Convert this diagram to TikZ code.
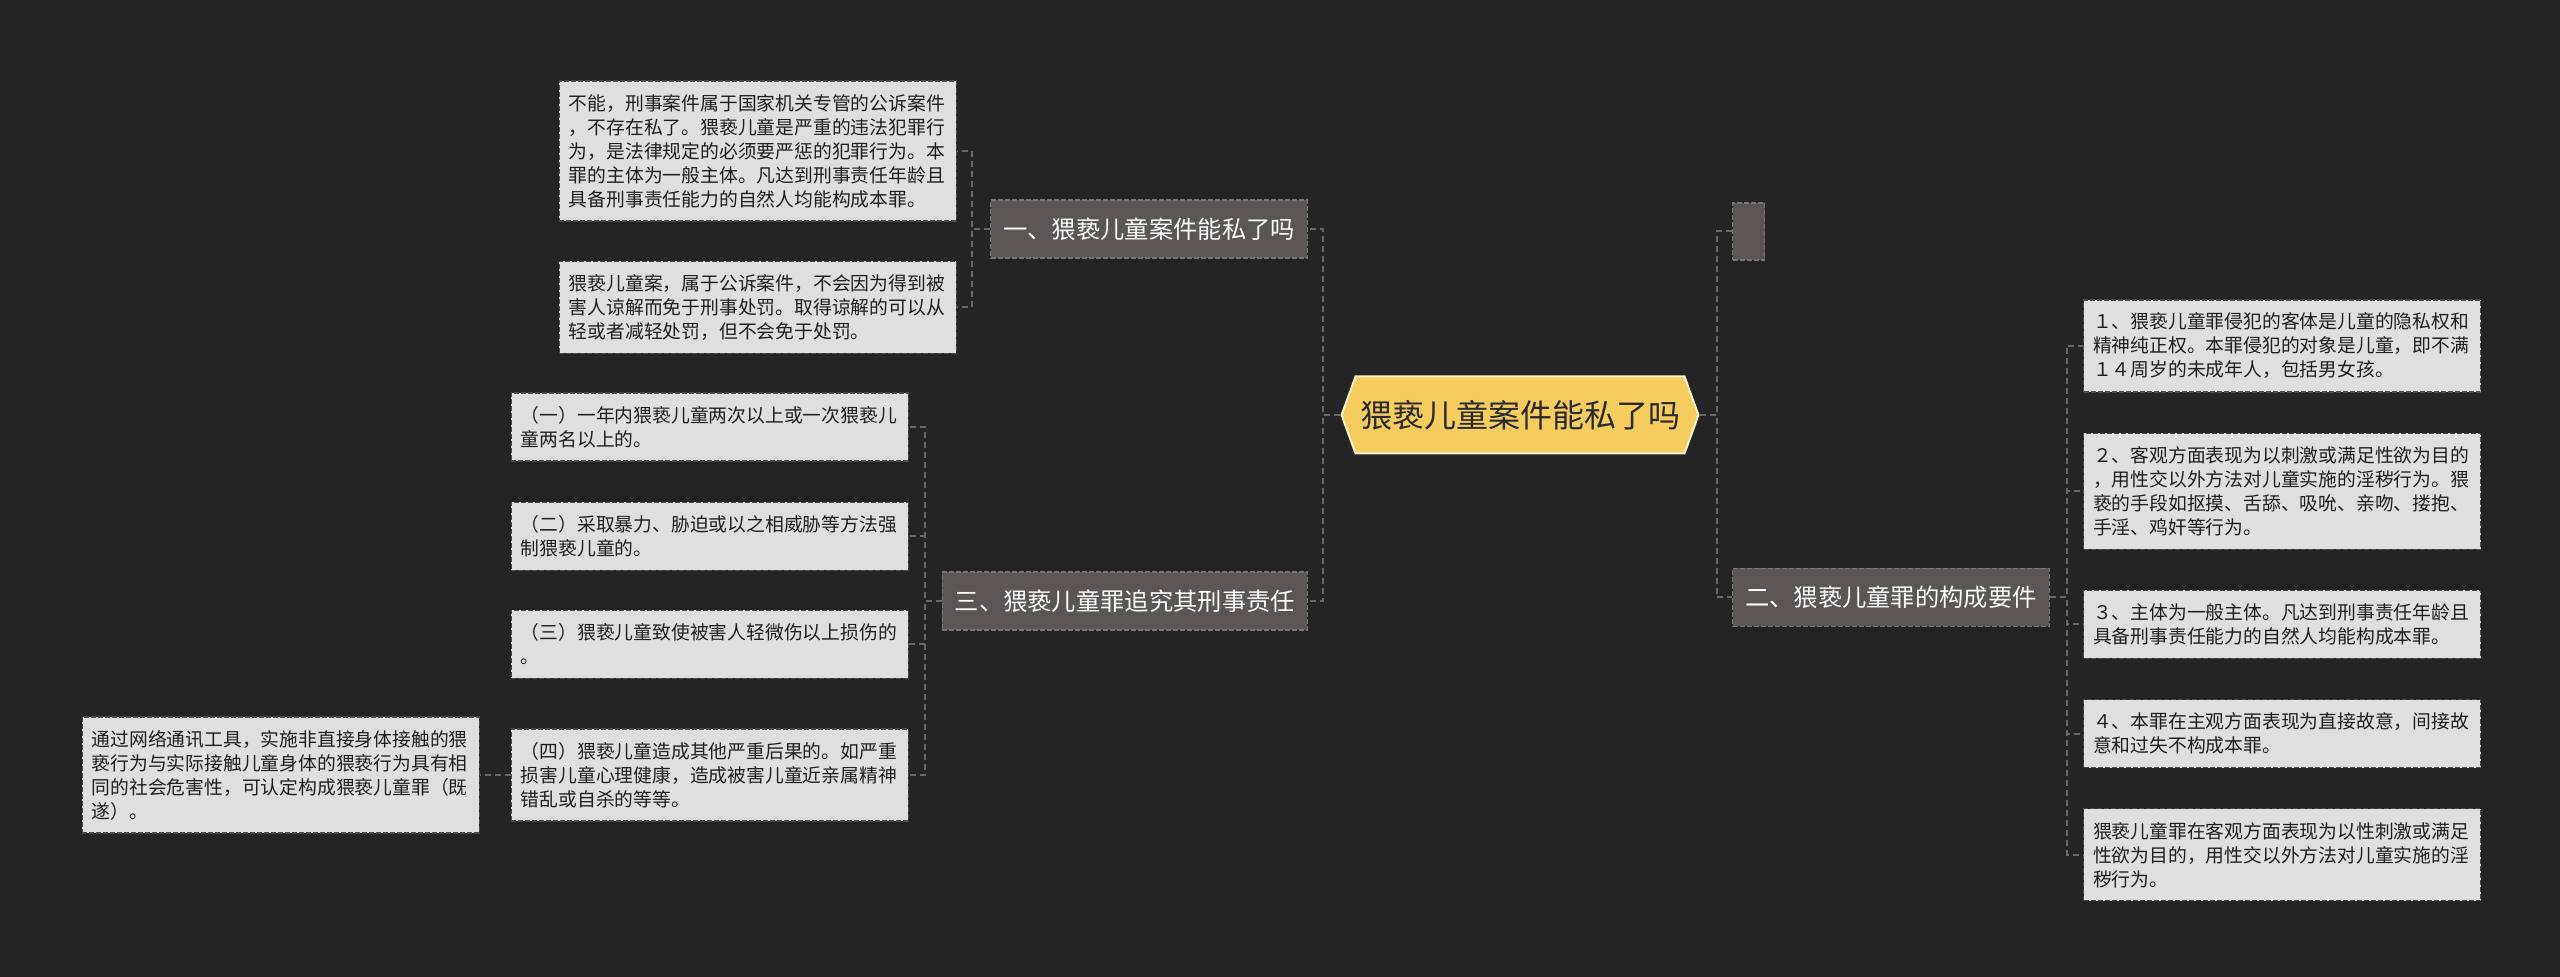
\documentclass[tikz,border=0pt]{standalone}
\usepackage{fontspec}
\setmainfont{Noto Sans CJK SC}
\usetikzlibrary{positioning, shapes.symbols}

\definecolor{bgdark}{HTML}{242424}
\definecolor{rootfill}{HTML}{F5CC5E}
\definecolor{rootedge}{HTML}{FFF3D2}
\definecolor{roottext}{HTML}{2A2A2A}
\definecolor{branchfill}{HTML}{5A5655}
\definecolor{branchedge}{HTML}{7A7675}
\definecolor{leaffill}{HTML}{DFDFDF}
\definecolor{leafedge}{HTML}{4A4A4A}
\definecolor{leaftext}{HTML}{1E1E1E}
\definecolor{linkgrey}{HTML}{686868}

\begin{document}
\begin{tikzpicture}[
    node distance=20pt,
    root/.style={
            shape=signal,
            signal to=west and east,
            signal pointer angle=140,
            fill=rootfill,
            draw=rootedge,
            line width=1pt,
            text=roottext,
            minimum width=178.5pt,
            minimum height=38.5pt,
            inner sep=0pt,
            font=\fontsize{16}{18}\selectfont
        },
    branch/.style={
            rectangle,
            fill=branchfill,
            draw=branchedge,
            line width=0.6pt,
            dash pattern=on 2.5pt off 1pt,
            text=white,
            inner xsep=6.25pt,
            inner ysep=0pt,
            minimum height=29pt,
            font=\fontsize{12.15}{14}\selectfont
        },
    leaf/.style={
            rectangle,
            fill=leaffill,
            draw=leafedge,
            line width=0.6pt,
            dash pattern=on 2.5pt off 1pt,
            text=leaftext,
            text width=189pt,
            align=left,
            inner xsep=4.75pt,
            inner ysep=0pt,
            minimum height={#1*12pt+10pt},
            font=\fontsize{9.4}{12}\selectfont
        },
    link/.style={draw=linkgrey, line width=1pt, dash pattern=on 3pt off 2pt},
    ]

    % --- Canvas ---
    \fill[bgdark] (0,0) rectangle (1280pt,-488.5pt);
    \useasboundingbox (0,0) rectangle (1280pt,-488.5pt);

    % --- Centre ---
    \node (root) [root] at (760pt,-207.5pt) {猥亵儿童案件能私了吗};

    % --- Branches ---
    \node (one) [branch, anchor=east] at (654pt,-114.5pt) {一、猥亵儿童案件能私了吗};
    \node (three) [branch, anchor=east] at (654pt,-300.5pt) {三、猥亵儿童罪追究其刑事责任};
    \node (blank) [branch, anchor=west, minimum width=16pt, minimum height=28.5pt] at (866pt,-115.75pt) {};
    \node (two) [branch, anchor=west] at (866pt,-298.75pt) {二、猥亵儿童罪的构成要件};

    % --- Branch one ---
    \node (cannot) [leaf=5, anchor=east] at (478.5pt,-75.5pt) {不能，刑事案件属于国家机关专管的公诉案件\\，不存在私了。猥亵儿童是严重的违法犯罪行\\为，是法律规定的必须要严惩的犯罪行为。本\\罪的主体为一般主体。凡达到刑事责任年龄且\\具备刑事责任能力的自然人均能构成本罪。};
    \node (public_case) [leaf=3, below=19.5pt of cannot] {猥亵儿童案，属于公诉案件，不会因为得到被\\害人谅解而免于刑事处罚。取得谅解的可以从\\轻或者减轻处罚，但不会免于处罚。};

    % --- Branch three ---
    \node (case_one) [leaf=2, anchor=east] at (454.5pt,-213.5pt) {（一）一年内猥亵儿童两次以上或一次猥亵儿\\童两名以上的。};
    \node (case_two) [leaf=2, below=of case_one] {（二）采取暴力、胁迫或以之相威胁等方法强\\制猥亵儿童的。};
    \node (case_three) [leaf=2, below=19.5pt of case_two] {（三）猥亵儿童致使被害人轻微伤以上损伤的\\。};
    \node (case_four) [leaf=3, anchor=east] at (454.5pt,-387.5pt) {（四）猥亵儿童造成其他严重后果的。如严重\\损害儿童心理健康，造成被害儿童近亲属精神\\错乱或自杀的等等。};
    \node (online) [leaf=4, left=15.5pt of case_four] {通过网络通讯工具，实施非直接身体接触的猥\\亵行为与实际接触儿童身体的猥亵行为具有相\\同的社会危害性，可认定构成猥亵儿童罪（既\\遂）。};

    % --- Branch two ---
    \node (object) [leaf=3, anchor=west] at (1041.5pt,-173pt) {１、猥亵儿童罪侵犯的客体是儿童的隐私权和\\精神纯正权。本罪侵犯的对象是儿童，即不满\\１４周岁的未成年人，包括男女孩。};
    \node (objective) [leaf=4, below=of object] {２、客观方面表现为以刺激或满足性欲为目的\\，用性交以外方法对儿童实施的淫秽行为。猥\\亵的手段如抠摸、舌舔、吸吮、亲吻、搂抱、\\手淫、鸡奸等行为。};
    \node (subject) [leaf=2, below=of objective] {３、主体为一般主体。凡达到刑事责任年龄且\\具备刑事责任能力的自然人均能构成本罪。};
    \node (intent) [leaf=2, below=of subject] {４、本罪在主观方面表现为直接故意，间接故\\意和过失不构成本罪。};
    \node (conduct) [leaf=3, below=of intent] {猥亵儿童罪在客观方面表现为以性刺激或满足\\性欲为目的，用性交以外方法对儿童实施的淫\\秽行为。};

    % --- Links ---
    \draw[link] (root.west) -- ++(-8.5pt,0) |- (one.east);
    \draw[link] (root.west) -- ++(-8.5pt,0) |- (three.east);
    \draw[link] (root.east) -- ++(8.5pt,0) |- (blank.west);
    \draw[link] (root.east) -- ++(8.5pt,0) |- (two.west);

    \draw[link] (one.west) -- ++(-9pt,0) |- (cannot.east);
    \draw[link] (one.west) -- ++(-9pt,0) |- (public_case.east);

    \draw[link] (three.west) -- ++(-8.5pt,0) |- (case_one.east);
    \draw[link] (three.west) -- ++(-8.5pt,0) |- (case_two.east);
    \draw[link] (three.west) -- ++(-8.5pt,0) |- (case_three.east);
    \draw[link] (three.west) -- ++(-8.5pt,0) |- (case_four.east);
    \draw[link] (case_four.west) -- ++(-8pt,0) |- (online.east);

    \draw[link] (two.east) -- ++(8.5pt,0) |- (object.west);
    \draw[link] (two.east) -- ++(8.5pt,0) |- (objective.west);
    \draw[link] (two.east) -- ++(8.5pt,0) |- (subject.west);
    \draw[link] (two.east) -- ++(8.5pt,0) |- (intent.west);
    \draw[link] (two.east) -- ++(8.5pt,0) |- (conduct.west);

\end{tikzpicture}
\end{document}
